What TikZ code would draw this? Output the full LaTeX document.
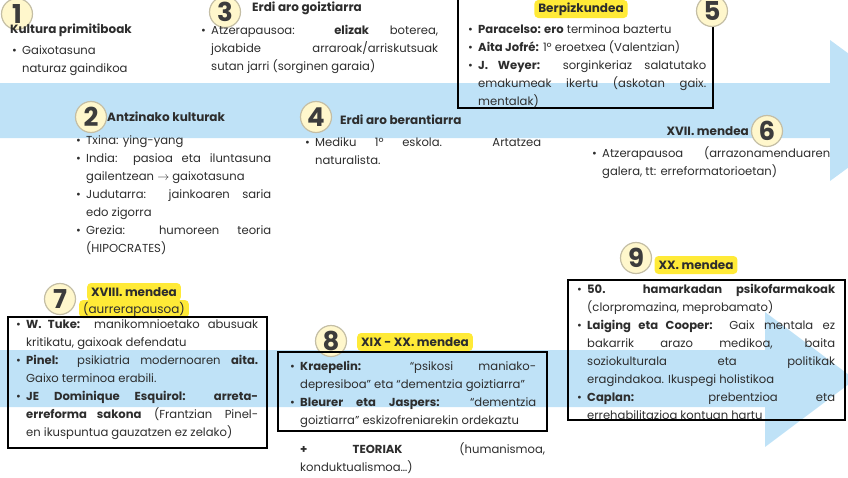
\documentclass[tikz,border=0pt]{standalone}
\usepackage{fontspec}
\setmainfont{Poppins}
\usetikzlibrary{positioning}

\definecolor{bandblue}{RGB}{191,226,247}
\definecolor{hiyellow}{RGB}{255,234,55}
\definecolor{numfill}{RGB}{255,247,204}
\definecolor{numring}{RGB}{196,190,165}
\definecolor{numink}{RGB}{60,60,60}
\definecolor{ink}{RGB}{45,45,45}

\hyphenpenalty=10000
\exhyphenpenalty=10000
\tolerance=10000

\newlength\bulind
\setlength\bulind{10pt}
\newcommand\bitem{\noindent\hspace*{-\bulind}\makebox[\bulind][l]{\textbullet}}

\tikzset{
  numdisc/.style={circle, draw=numring, fill=numfill, line width=1.2pt, minimum size=31pt, inner sep=0pt, text=numink, font=\fontsize{26}{26}\selectfont\bfseries},
  headtxt/.style={inner sep=0pt, text=ink, font=\fontsize{12}{14}\selectfont\bfseries},
  hilite/.style={fill=hiyellow, rounded corners=4pt, inner xsep=4pt, inner ysep=0pt, minimum height=18pt, text=ink, font=\fontsize{12}{14}\selectfont\bfseries},
  bodytxt/.style={inner sep=0pt, anchor=base west, text=ink, align=justify, font=\fontsize{11.6}{18}\selectfont},
  eraframe/.style={draw=black, line width=1.8pt},
}

\begin{document}
\begin{tikzpicture}[x=1pt, y=-1pt]
    \useasboundingbox (0,0) rectangle (848,477);
    \clip (0,0) rectangle (848,477);

    % Upper arrow
    \fill[bandblue] (0,83) -- (830,83) -- (830,40) -- (926,110.5) -- (830,181) -- (830,138) -- (0,138) -- cycle;

    % Lower arrow
    \fill[bandblue] (0,350) -- (765,350) -- (765,312) -- (855,379.5) -- (765,447) -- (765,407) -- (0,407) -- cycle;

    % 1 - Kultura primitiboak
    \node[numdisc] (n1) at (17,14) {1};
    \node[headtxt, anchor=west] (h1) at (10,30) {Kultura primitiboak};
    \node[bodytxt, text width=130pt] (t1) at (12,54)
        {\leftskip=\bulind \bitem Gaixotasuna\linebreak naturaz gaindikoa\par};

    % 3 - Erdi aro goiztiarra
    \node[numdisc] (n3) at (225,12) {3};
    \node[headtxt, anchor=west] (h3) at (252,8) {Erdi aro goiztiarra};
    \node[bodytxt, text width=237pt] (t3) at (201,34.5)
        {\leftskip=\bulind \bitem Atzerapausoa: \textbf{elizak} boterea,\linebreak jokabide arraroak/arriskutsuak\linebreak sutan jarri (sorginen garaia)\par};

    % 5 - Berpizkundea
    \draw[eraframe] (458,-5) rectangle (713,108);
    \node[hilite] (y5) at (581,9) {Berpizkundea};
    \node[numdisc] (n5) at (712,11) {5};
    \node[bodytxt, text width=238pt] (t5) at (468,33)
        {\leftskip=\bulind \bitem \textbf{Paracelso: ero} terminoa baztertu
         \par\bitem \textbf{Aita Jofré:} 1º eroetxea (Valentzian)
         \par\bitem \textbf{J. Weyer:} sorginkeriaz salatutako\linebreak emakumeak ikertu (askotan gaix.\linebreak mentalak)\par};

    % 2 - Antzinako kulturak
    \node[numdisc] (n2) at (91,117) {2};
    \node[headtxt, anchor=west] (h2) at (107,117) {Antzinako kulturak};
    \node[bodytxt, text width=195pt] (t2) at (76,144)
        {\leftskip=\bulind \bitem Txina: ying-yang
         \par\bitem India: pasioa eta iluntasuna\linebreak gailentzean $\to$ gaixotasuna
         \par\bitem Judutarra: jainkoaren saria\linebreak edo zigorra
         \par\bitem Grezia: humoreen teoria\linebreak (HIPOCRATES)\par};

    % 4 - Erdi aro berantiarra
    \node[numdisc] (n4) at (316,117) {4};
    \node[headtxt, anchor=west] (h4) at (340,120) {Erdi aro berantiarra};
    \node[bodytxt, text width=236pt] (t4) at (305,146)
        {\leftskip=\bulind \bitem Mediku 1º eskola. Artatzea\linebreak naturalista.\par};

    % 6 - XVII. mendea
    \node[numdisc] (n6) at (767,131) {6};
    \node[headtxt, anchor=east] (h6) at (749,131) {XVII. mendea};
    \node[bodytxt, text width=238pt] (t6) at (592,157)
        {\leftskip=\bulind \bitem Atzerapausoa (arrazonamenduaren\linebreak galera, tt: erreformatorioetan)\par};

    % 7 - XVIII. mendea
    \node[numdisc] (n7) at (60,299) {7};
    \node[hilite] (y7b) at (134,309) {\mdseries(aurrerapausoa)};
    \node[hilite] (y7a) at (134,292) {XVIII. mendea};
    \draw[eraframe] (8,317) rectangle (267,448);
    \node[bodytxt, text width=242pt] (t7) at (16,328)
        {\leftskip=\bulind \bitem \textbf{W. Tuke:} manikomnioetako abusuak\linebreak kritikatu, gaixoak defendatu
         \par\bitem \textbf{Pinel:} psikiatria modernoaren \textbf{aita.}\linebreak Gaixo terminoa erabili.
         \par\bitem \textbf{JE Dominique Esquirol: arreta-}\linebreak\textbf{erreforma sakona} (Frantzian Pinel-\linebreak en ikuspuntua gauzatzen ez zelako)\par};

    % 8 - XIX - XX. mendea
    \node[numdisc] (n8) at (331,341) {8};
    \node[hilite] (y8) at (415,342) {XIX - XX. mendea};
    \draw[eraframe] (278,352) rectangle (547,431);
    \node[bodytxt, text width=246pt] (t8) at (290,370)
        {\leftskip=\bulind \bitem \textbf{Kraepelin:} “psikosi maniako-\linebreak depresiboa” eta “dementzia goiztiarra”
         \par\bitem \textbf{Bleurer eta Jaspers:} “dementzia\linebreak goiztiarra” eskizofreniarekin ordekaztu\par};
    \node[bodytxt, text width=245pt] (t8b) at (300,453)
        {\textbf{+ TEORIAK} (humanismoa,\linebreak konduktualismoa…)\par};

    % 9 - XX. mendea
    \node[numdisc] (n9) at (636,258) {9};
    \node[hilite] (y9) at (696,265) {XX. mendea};
    \draw[eraframe] (568,280) rectangle (845,420);
    \node[bodytxt, text width=258pt] (t9) at (577,293)
        {\leftskip=\bulind \bitem \textbf{50. hamarkadan psikofarmakoak}\linebreak (clorpromazina, meprobamato)
         \par\bitem \textbf{Laiging eta Cooper:} Gaix mentala ez\linebreak bakarrik arazo medikoa, baita\linebreak soziokulturala eta politikak\linebreak eragindakoa. Ikuspegi holistikoa
         \par\bitem \textbf{Caplan:} prebentzioa eta\linebreak errehabilitazioa kontuan hartu\par};
\end{tikzpicture}
\end{document}
